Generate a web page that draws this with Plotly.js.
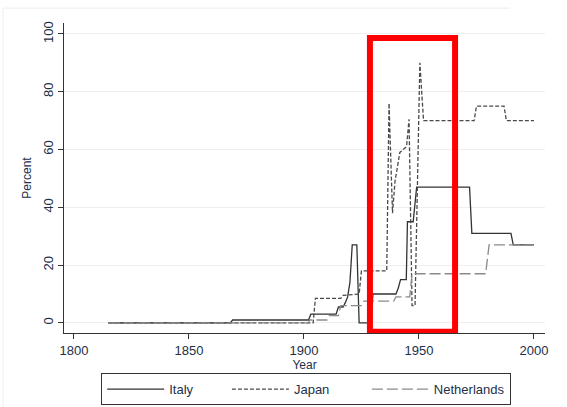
<!DOCTYPE html>
<html><head><meta charset="utf-8">
<script src="https://cdn.plot.ly/plotly-3.0.1.min.js"></script>
<style>html,body{margin:0;padding:0;background:#fff}#chart{width:567px;height:407px}</style>
</head><body><div id="chart"></div>
<script>
const italyYears = [1815,1868,1869,1902,1903,1914,1915,1917,1918,1919,1920,1921,1923,1924,1929,1930,1940,1941,1942,1944.5,1945,1947.5,1949,1972,1973,1990,1991,2000];
const italyVals  = [0,0,1,1,3,3,5.5,5.5,7,9,14,27,27,0,0,10,10,12,15,15,35,35,47,47,31,31,27,27];

const japanYears = [1815,1904,1905,1916,1917,1924,1925,1936,1937,1938.5,1939.6,1941.7,1944.6,1945.7,1947,1948.3,1950.4,1952,1974,1975,1987,1988,2000];
const japanVals  = [0,0,8.5,8.5,9.5,10,18,18,76,38,49,59,61,70.5,6,6,90,70,70,75,75,70,70];

const nethYears = [1815,1902,1902.5,1910,1911,1915,1916,1925,1926,1939,1940,1946,1947,1979,1980.5,2000];
const nethVals  = [0,0,1,1,2.5,2.5,6,6,7.5,7.5,9,9,17,17,27,27];

const seriesNames = ['Italy','Japan','Netherlands'];
const xTicks = [1800,1850,1900,1950,2000];
const yTicks = [0,20,40,60,80,100];
const highlightYears = [1928.7,1965.7];
const highlightPct = [-3.1,98.6];

const pad = n => '\u00a0'.repeat(n);
const txt = '#22304a';
const traces = [
  {x: italyYears, y: italyVals, name: seriesNames[0] + pad(8), mode: 'lines', line: {color: '#333333', width: 1.3}},
  {x: japanYears, y: japanVals, name: seriesNames[1] + pad(9), mode: 'lines', line: {color: '#4a4a4a', width: 1.3, dash: '4px,2px'}},
  {x: nethYears, y: nethVals, name: seriesNames[2], mode: 'lines', line: {color: '#8a8a8a', width: 1.3, dash: '11px,4px'}}
];
const layout = {
  width: 567, height: 407,
  margin: {l: 64, r: 22, t: 23, b: 74},
  paper_bgcolor: '#ffffff', plot_bgcolor: '#ffffff',
  font: {family: 'Liberation Sans, Arial, sans-serif', size: 12.5, color: txt},
  showlegend: true,
  xaxis: {range: [1795.7, 2004.8], tickvals: xTicks, ticktext: xTicks.map(String), ticks: 'outside', ticklen: 5, tickcolor: '#333',
          showline: true, linecolor: '#333', linewidth: 1.2, showgrid: false, zeroline: false,
          title: {text: 'Year', standoff: 2, font: {size: 12, color: txt}}, tickfont: {size: 13, color: txt}},
  yaxis: {range: [-3.5, 103.8], tickvals: yTicks, ticktext: yTicks.map(String), tickangle: -90, ticks: 'outside', ticklen: 5, tickcolor: '#333',
          showline: true, linecolor: '#333', linewidth: 1.2, showgrid: true, gridcolor: '#efefef', gridwidth: 1, zeroline: false,
          title: {text: 'Percent', standoff: 6, font: {size: 12, color: txt}}, tickfont: {size: 13, color: txt}},
  legend: {orientation: 'h', xref: 'container', yref: 'container', x: 0.54, xanchor: 'center', y: 0.083, yanchor: 'top',
           bordercolor: '#333', borderwidth: 1, itemwidth: 57,
           font: {size: 13, color: txt}, bgcolor: '#fff'},
  shapes: [
    {type: 'rect', xref: 'x', yref: 'y', x0: highlightYears[0], x1: highlightYears[1], y0: highlightPct[0], y1: highlightPct[1],
     line: {color: '#ff0000', width: 6}, fillcolor: 'rgba(0,0,0,0)'},
    {type: 'line', xref: 'paper', yref: 'paper', x0: -0.127, x1: 0.927, y0: 1.048, y1: 1.048, line: {color: '#eeeeee', width: 1}},
    {type: 'line', xref: 'paper', yref: 'paper', x0: -0.127, x1: -0.127, y0: 1.048, y1: -0.25, line: {color: '#eeeeee', width: 1}}
  ]
};
Plotly.newPlot('chart', traces, layout, {displayModeBar: false, staticPlot: true});
</script></body></html>
